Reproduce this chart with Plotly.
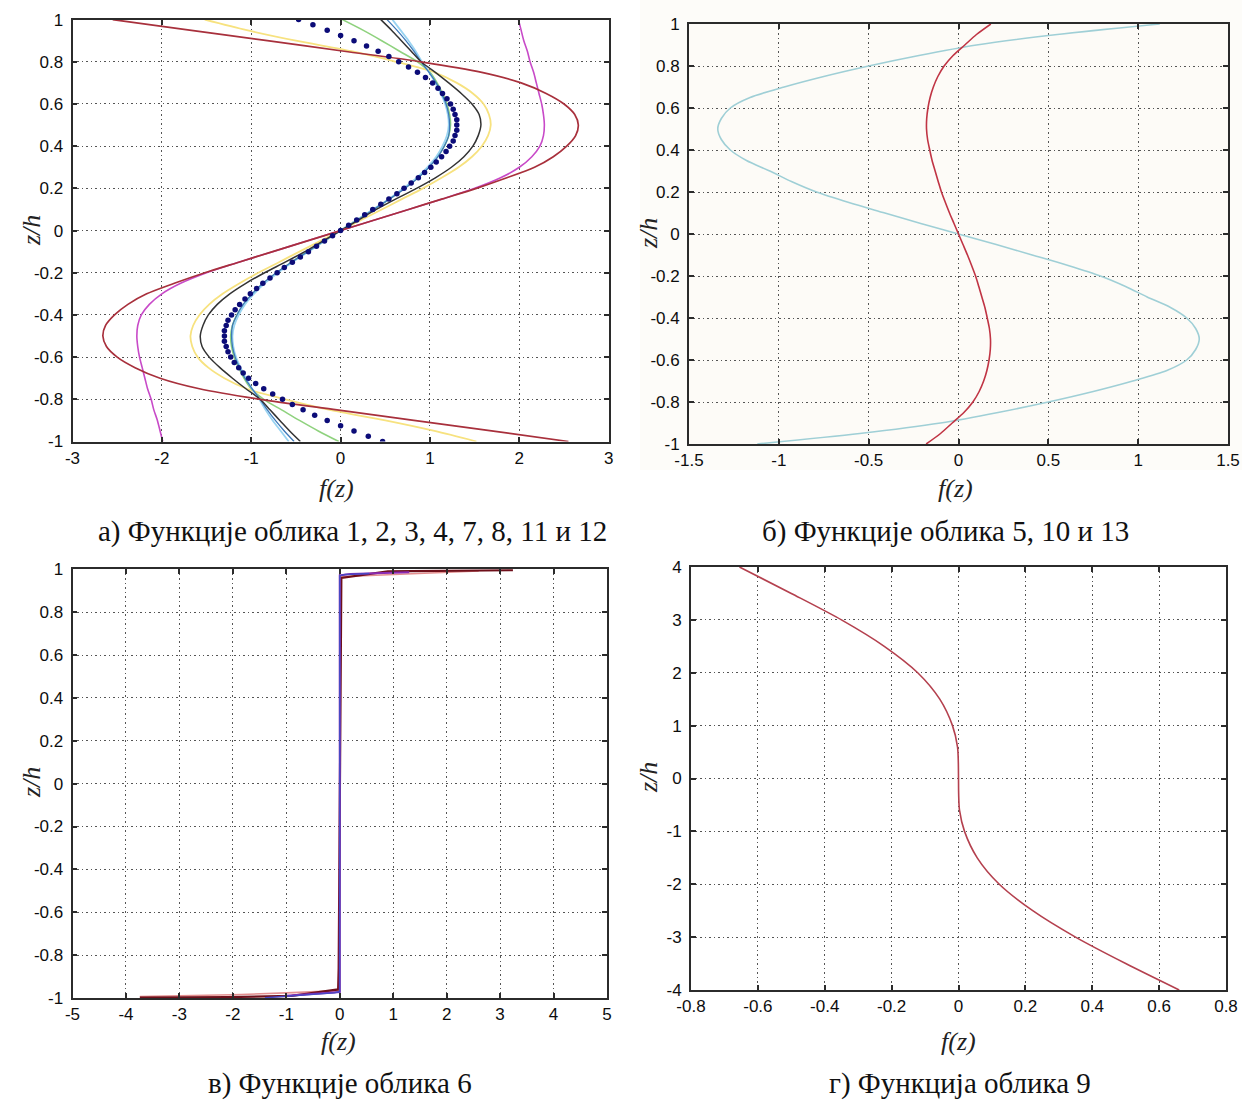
import plotly.graph_objects as go

# ---------------- data ----------------
# panel a: shape functions 1, 2, 3, 4, 7, 8, 11, 12 (z/h from -1 to 1, step 0.05)
Z_A = [-1.0, -0.95, -0.9, -0.85, -0.8, -0.75, -0.7, -0.65, -0.6, -0.55, -0.5,
       -0.45, -0.4, -0.35, -0.3, -0.25, -0.2, -0.15, -0.1, -0.05, 0.0,
       0.05, 0.1, 0.15, 0.2, 0.25, 0.3, 0.35, 0.4, 0.45, 0.5,
       0.55, 0.6, 0.65, 0.7, 0.75, 0.8, 0.85, 0.9, 0.95, 1.0]

F_RED = [2.55, 1.69, 0.82, -0.04, -0.9, -1.58, -2.02, -2.3, -2.5, -2.62, -2.66,
         -2.63, -2.53, -2.38, -2.17, -1.86, -1.52, -1.14, -0.76, -0.38, 0.0,
         0.38, 0.76, 1.14, 1.52, 1.86, 2.17, 2.38, 2.53, 2.63, 2.66,
         2.62, 2.5, 2.3, 2.02, 1.58, 0.9, 0.04, -0.82, -1.69, -2.55]
F_MAGENTA = [-1.99, -2.02, -2.05, -2.09, -2.12, -2.16, -2.19, -2.22, -2.25, -2.27, -2.28,
             -2.27, -2.23, -2.14, -2.0, -1.79, -1.5, -1.14, -0.76, -0.38, 0.0,
             0.38, 0.76, 1.14, 1.5, 1.79, 2.0, 2.14, 2.23, 2.27, 2.28,
             2.27, 2.25, 2.22, 2.19, 2.16, 2.12, 2.09, 2.05, 2.02, 1.99]
F_YELLOW = [1.52, 1.05, 0.5, -0.12, -0.62, -1.05, -1.3, -1.48, -1.6, -1.66, -1.68,
            -1.65, -1.58, -1.47, -1.32, -1.13, -0.92, -0.69, -0.46, -0.23, 0.0,
            0.23, 0.46, 0.69, 0.92, 1.13, 1.32, 1.47, 1.58, 1.65, 1.68,
            1.66, 1.6, 1.48, 1.3, 1.05, 0.62, 0.12, -0.5, -1.05, -1.52]
F_BLACK = [-0.45, -0.57, -0.68, -0.79, -0.9, -1.06, -1.21, -1.35, -1.47, -1.55, -1.57,
           -1.54, -1.48, -1.38, -1.24, -1.06, -0.85, -0.62, -0.4, -0.2, 0.0,
           0.2, 0.4, 0.62, 0.85, 1.06, 1.24, 1.38, 1.48, 1.54, 1.57,
           1.55, 1.47, 1.35, 1.21, 1.06, 0.9, 0.79, 0.68, 0.57, 0.45]
F_LIGHTBLUE = [-0.58, -0.67, -0.76, -0.84, -0.91, -0.99, -1.06, -1.12, -1.17, -1.2, -1.21,
               -1.19, -1.14, -1.07, -0.97, -0.85, -0.7, -0.54, -0.36, -0.18, 0.0,
               0.18, 0.36, 0.54, 0.7, 0.85, 0.97, 1.07, 1.14, 1.19, 1.21,
               1.2, 1.17, 1.12, 1.06, 0.99, 0.91, 0.84, 0.76, 0.67, 0.58]
F_BLUE = [-0.52, -0.63, -0.73, -0.82, -0.9, -0.99, -1.07, -1.13, -1.18, -1.21, -1.22,
          -1.21, -1.16, -1.09, -0.99, -0.87, -0.72, -0.55, -0.37, -0.19, 0.0,
          0.19, 0.37, 0.55, 0.72, 0.87, 0.99, 1.09, 1.16, 1.21, 1.22,
          1.21, 1.18, 1.13, 1.07, 0.99, 0.9, 0.82, 0.73, 0.63, 0.52]
F_GREEN = [-0.02, -0.25, -0.46, -0.66, -0.86, -1.0, -1.08, -1.14, -1.19, -1.22, -1.23,
           -1.21, -1.16, -1.08, -0.98, -0.86, -0.71, -0.55, -0.37, -0.18, 0.0,
           0.18, 0.37, 0.55, 0.71, 0.86, 0.98, 1.08, 1.16, 1.21, 1.23,
           1.22, 1.19, 1.14, 1.08, 1.0, 0.86, 0.66, 0.46, 0.25, 0.02]

# dotted function (step 0.025)
Z_DOTS = [-1.0, -0.975, -0.95, -0.925, -0.9, -0.875, -0.85, -0.825, -0.8, -0.775,
          -0.75, -0.725, -0.7, -0.675, -0.65, -0.625, -0.6, -0.575, -0.55, -0.525,
          -0.5, -0.475, -0.45, -0.425, -0.4, -0.375, -0.35, -0.325, -0.3, -0.275,
          -0.25, -0.225, -0.2, -0.175, -0.15, -0.125, -0.1, -0.075, -0.05, -0.025,
          0.0, 0.025, 0.05, 0.075, 0.1, 0.125, 0.15, 0.175, 0.2, 0.225,
          0.25, 0.275, 0.3, 0.325, 0.35, 0.375, 0.4, 0.425, 0.45, 0.475,
          0.5, 0.525, 0.55, 0.575, 0.6, 0.625, 0.65, 0.675, 0.7, 0.725,
          0.75, 0.775, 0.8, 0.825, 0.85, 0.875, 0.9, 0.925, 0.95, 0.975, 1.0]
F_DOTS = [0.47, 0.31, 0.15, 0.0, -0.15, -0.29, -0.42, -0.54, -0.65, -0.76,
          -0.86, -0.95, -1.03, -1.09, -1.14, -1.19, -1.23, -1.26, -1.28, -1.3,
          -1.3, -1.3, -1.28, -1.26, -1.22, -1.18, -1.13, -1.07, -1.01, -0.94,
          -0.87, -0.79, -0.71, -0.63, -0.54, -0.45, -0.36, -0.27, -0.18, -0.09,
          0.0, 0.09, 0.18, 0.27, 0.36, 0.45, 0.54, 0.63, 0.71, 0.79,
          0.87, 0.94, 1.01, 1.07, 1.13, 1.18, 1.22, 1.26, 1.28, 1.3,
          1.3, 1.3, 1.28, 1.26, 1.23, 1.19, 1.14, 1.09, 1.03, 0.95,
          0.86, 0.76, 0.65, 0.54, 0.42, 0.29, 0.15, 0.0, -0.15, -0.31, -0.47]

# panel b: shape functions 5, 10, 13
Z_B = [-1.0, -0.95, -0.9, -0.85, -0.8, -0.75, -0.7, -0.65, -0.6, -0.55, -0.5,
       -0.45, -0.4, -0.35, -0.3, -0.25, -0.2, -0.15, -0.1, -0.05, 0.0,
       0.05, 0.1, 0.15, 0.2, 0.25, 0.3, 0.35, 0.4, 0.45, 0.5,
       0.55, 0.6, 0.65, 0.7, 0.75, 0.8, 0.85, 0.9, 0.95, 1.0]
F_B_CYAN = [-1.12, -0.55, -0.1, 0.22, 0.5, 0.75, 0.97, 1.16, 1.27, 1.32, 1.34,
            1.32, 1.27, 1.18, 1.05, 0.93, 0.79, 0.61, 0.41, 0.21, 0.0,
            -0.21, -0.41, -0.61, -0.79, -0.93, -1.05, -1.18, -1.27, -1.32, -1.34,
            -1.32, -1.27, -1.16, -0.97, -0.75, -0.5, -0.22, 0.1, 0.55, 1.12]
F_B_RED = [-0.18, -0.1, -0.035, 0.03, 0.08, 0.115, 0.14, 0.158, 0.17, 0.177, 0.178,
           0.172, 0.16, 0.147, 0.13, 0.113, 0.095, 0.073, 0.05, 0.025, 0.0,
           -0.025, -0.05, -0.073, -0.095, -0.113, -0.13, -0.147, -0.16, -0.172, -0.178,
           -0.177, -0.17, -0.158, -0.14, -0.115, -0.08, -0.03, 0.035, 0.1, 0.18]

# panel c: shape function 6 (sharp boundary layers)
Z_C_PINK = [-0.993, -0.985, -0.975, -0.965, 0.965, 0.975, 0.985, 0.992]
F_C_PINK = [-3.74, -2.0, -0.88, 0.0, 0.0, 0.88, 2.0, 2.6]
Z_C_DARK = [-0.998, -0.996, -0.99, -0.96, -0.86, 0.86, 0.96, 0.99, 0.994, 0.996]
F_C_DARK = [-3.74, -2.1, -0.9, -0.03, -0.02, 0.02, 0.03, 0.9, 2.2, 3.24]
Z_C_PURPLE = [-0.99, -0.978, -0.972, 0.972, 0.978, 0.986]
F_C_PURPLE = [-1.0, -0.2, 0.0, 0.0, 0.2, 1.3]
Z_C_BLUE = [-0.999, -0.99, -0.975, -0.97, 0.97, 0.976, 0.98]
F_C_BLUE = [-1.4, -0.9, -0.1, 0.0, 0.0, 0.1, 0.55]

# panel d: shape function 9
Z_D = [-4.0, -3.5, -3.0, -2.5, -2.0, -1.5, -1.0, -0.6, -0.3, 0.0,
       0.3, 0.6, 1.0, 1.5, 2.0, 2.5, 3.0, 3.5, 4.0]
F_D = [0.66, 0.5, 0.35, 0.222, 0.122, 0.056, 0.018, 0.003, 0.0005, 0.0,
       -0.0005, -0.003, -0.018, -0.056, -0.122, -0.222, -0.35, -0.5, -0.655]

TICKS_11 = [-1, -0.8, -0.6, -0.4, -0.2, 0, 0.2, 0.4, 0.6, 0.8, 1]
TICKS_A_X = [-3, -2, -1, 0, 1, 2, 3]
TICKS_B_X = [-1.5, -1, -0.5, 0, 0.5, 1, 1.5]
TICKS_C_X = [-5, -4, -3, -2, -1, 0, 1, 2, 3, 4, 5]
TICKS_D_X = [-0.8, -0.6, -0.4, -0.2, 0, 0.2, 0.4, 0.6, 0.8]
TICKS_D_Y = [-4, -3, -2, -1, 0, 1, 2, 3, 4]

CAPTIONS = ["а) Функције облика 1, 2, 3, 4, 7, 8, 11 и 12",
            "б) Функције облика 5, 10 и 13",
            "в) Функције облика 6",
            "г) Функција облика 9"]

# ---------------- layout helpers ----------------
W, H = 1242, 1102


def fx(px):
    return px / W


def fy(py):
    return 1 - py / H


def label(v):
    return "%g" % v  # plain hyphen minus, as in the printed figure


TICK_FONT = dict(family="Liberation Sans, Arial, sans-serif", size=17, color="#0d0d0d")


def axis(dom, rng, ticks, anchor):
    return dict(domain=dom, range=rng, anchor=anchor, automargin=False,
                tickmode="array", tickvals=ticks, ticktext=[label(t) for t in ticks],
                showline=True, linecolor="#2b2b2b", linewidth=1.8, mirror="ticks",
                ticks="inside", ticklen=5, tickwidth=1.5, tickcolor="#2b2b2b",
                showgrid=True, gridcolor="#555555", gridwidth=1, griddash="1.5px,3px",
                zeroline=False, tickfont=TICK_FONT, fixedrange=True)


fig = go.Figure()

# panels: pixel boxes (left, right, top, bottom)
BOX = {
    "a": (72.5, 608.7, 19.6, 441.5),
    "b": (689, 1228, 24, 444),
    "c": (72.5, 607, 569.3, 998),
    "d": (691, 1226, 567, 990),
}
AX = {"a": ("x", "y"), "b": ("x2", "y2"), "c": ("x3", "y3"), "d": ("x4", "y4")}


def line(fig, xs, zs, color, panel, width=1.6, shape="spline"):
    xa, ya = AX[panel]
    fig.add_trace(go.Scatter(x=xs, y=zs, mode="lines", xaxis=xa, yaxis=ya,
                             line=dict(color=color, width=width, shape=shape, smoothing=0.8),
                             showlegend=False, hoverinfo="skip"))


# panel a
line(fig, F_YELLOW, Z_A, "#f7e27f", "a", 1.8)
line(fig, F_GREEN, Z_A, "#8fd27e", "a")
line(fig, F_LIGHTBLUE, Z_A, "#9ad4f2", "a", 1.8)
line(fig, F_BLUE, Z_A, "#3d78b8", "a", 1.3)
line(fig, F_BLACK, Z_A, "#333333", "a", 1.5)
line(fig, F_MAGENTA, Z_A, "#c84ac8", "a", 1.6)
line(fig, F_RED, Z_A, "#a8303c", "a", 1.7)
fig.add_trace(go.Scatter(x=F_DOTS, y=Z_DOTS, mode="markers", xaxis="x", yaxis="y",
                         marker=dict(color="#0c0c78", size=5.5), showlegend=False,
                         hoverinfo="skip"))

# panel b
line(fig, F_B_CYAN, Z_B, "#9fcfd6", "b", 1.6)
line(fig, F_B_RED, Z_B, "#c03444", "b", 1.6)

# panel c
line(fig, F_C_PINK, Z_C_PINK, "#e49090", "c", 1.6, "linear")
line(fig, F_C_DARK, Z_C_DARK, "#6e0f1a", "c", 2.2, "linear")
line(fig, F_C_PURPLE, Z_C_PURPLE, "#8a2ab4", "c", 2.0, "linear")
line(fig, F_C_BLUE, Z_C_BLUE, "#4848c4", "c", 1.5, "linear")

# panel d
line(fig, F_D, Z_D, "#b4404e", "d", 1.6)

layout = dict(width=W, height=H, margin=dict(l=0, r=0, t=0, b=0, autoexpand=False),
              paper_bgcolor="white", plot_bgcolor="white", showlegend=False)

specs = {
    "a": ([-3, 3], TICKS_A_X, [-1, 1], TICKS_11),
    "b": ([-1.5, 1.5], TICKS_B_X, [-1, 1], TICKS_11),
    "c": ([-5, 5], TICKS_C_X, [-1, 1], TICKS_11),
    "d": ([-0.8, 0.8], TICKS_D_X, [-4, 4], TICKS_D_Y),
}
for key, (xa, ya) in AX.items():
    l, r, t, b = BOX[key]
    xr, xt, yr, yt = specs[key]
    xname = "xaxis" + xa[1:]
    yname = "yaxis" + ya[1:]
    layout[xname] = axis([fx(l), fx(r)], xr, xt, ya)
    layout[xname]["ticklabelstandoff"] = 0
    layout[yname] = axis([fy(b), fy(t)], yr, yt, xa)
    layout[yname]["ticklabelstandoff"] = 4

fig.update_layout(**layout)

# faint cream background of panel b
fig.add_shape(type="rect", xref="paper", yref="paper", x0=fx(640), x1=1, y0=fy(470), y1=1,
              fillcolor="#fdfcf9", line=dict(width=0), layer="below")
fig.add_shape(type="rect", xref="x2 domain", yref="y2 domain", x0=0, x1=1, y0=0, y1=1,
              fillcolor="#fdfbf7", line=dict(width=0), layer="below")

# axis titles
TITLE_FONT = dict(family="Liberation Serif, Times New Roman, serif", size=26, color="#222")
ZH = {"a": (31, 231), "b": (648, 234), "c": (31, 783), "d": (648, 778)}
FZ = {"a": (336, 488), "b": (955, 488), "c": (338, 1041), "d": (958, 1041)}
for key in "abcd":
    x, y = ZH[key]
    fig.add_annotation(x=fx(x), y=fy(y), xref="paper", yref="paper", text="<i>z/h</i>",
                       textangle=-90, showarrow=False, font=TITLE_FONT,
                       xanchor="center", yanchor="middle")
    x, y = FZ[key]
    fig.add_annotation(x=fx(x), y=fy(y), xref="paper", yref="paper", text="<i>f(z)</i>",
                       showarrow=False, font=TITLE_FONT, xanchor="center", yanchor="middle")

CAP_FONT = dict(family="Liberation Serif, Times New Roman, serif", size=29, color="#111")
CAP_POS = [(352, 531), (945, 531), (340, 1083), (960, 1083)]
for text, (x, y) in zip(CAPTIONS, CAP_POS):
    fig.add_annotation(x=fx(x), y=fy(y), xref="paper", yref="paper", text=text,
                       showarrow=False, font=CAP_FONT, xanchor="center", yanchor="middle")

fig.write_html("out.html")
